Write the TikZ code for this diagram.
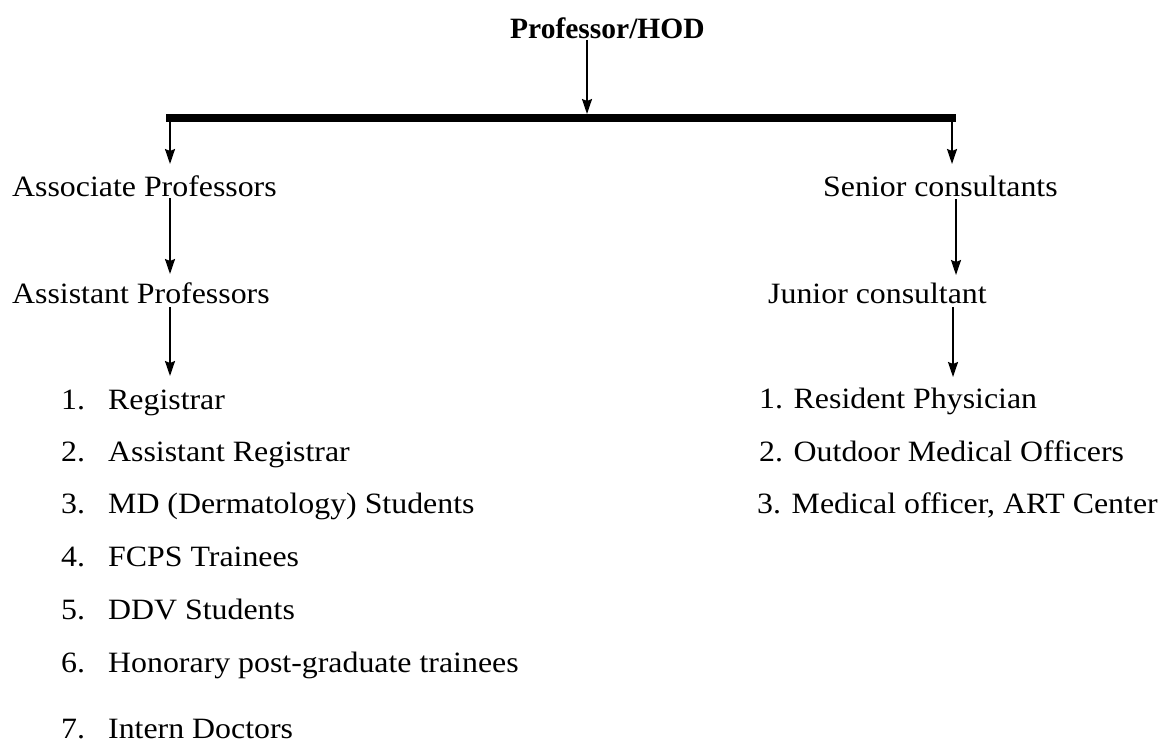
\documentclass[tikz,border=0pt]{standalone}
\usepackage{fontspec}
\setmainfont{Liberation Serif}[FakeStretch=1.08]
\newfontfamily\hodfont{Liberation Serif}
\usetikzlibrary{arrows.meta}
\begin{document}
\begin{tikzpicture}[x=1pt,y=-1pt,
  lbl/.style={anchor=base west,inner sep=0pt,font=\fontsize{29.5}{34}\selectfont},
  arr/.style={line width=1.8pt,-{Stealth[length=15pt,width=10pt,inset=2pt]}},
  bar/.style={line width=8pt}]
\useasboundingbox (0,0) rectangle (1158,749);
\node[lbl,font=\fontsize{29.5}{34}\hodfont\bfseries] (hod) at (510,39) {Professor/HOD};
% bar
\coordinate (bl) at (166,118);
\coordinate (br) at (956,118);
\coordinate (bm) at (587,114);
\coordinate (hodb) at (587,40);
\draw[bar] (bl) -- (br);
\draw[arr] (hodb) -- (bm);
% level nodes
\node[lbl] (assoc) at (12,196) {Associate Professors};
\node[lbl] (senior) at (823,196) {Senior consultants};
\node[lbl] (assist) at (12,303) {Assistant Professors};
\node[lbl] (junior) at (768,303) {Junior consultant};
% arrow endpoints
\coordinate (l0) at (170,122);
\coordinate (l1) at (170,164);
\coordinate (r0) at (952,122);
\coordinate (r1) at (952,164);
\coordinate (l2) at (170,198);
\coordinate (l3) at (170,274);
\coordinate (r2) at (956,199);
\coordinate (r3) at (956,275);
\coordinate (l4) at (170,307);
\coordinate (l5) at (170,376);
\coordinate (r4) at (953,307);
\coordinate (r5) at (953,377);
\draw[arr] (l0) -- (l1);
\draw[arr] (r0) -- (r1);
\draw[arr] (l2) -- (l3);
\draw[arr] (r2) -- (r3);
\draw[arr] (l4) -- (l5);
\draw[arr] (r4) -- (r5);
% left list
\node[lbl] (n1) at (61,409) {1.};
\node[lbl] (t1) at (108,409) {Registrar};
\node[lbl] (n2) at (61,461) {2.};
\node[lbl] (t2) at (108,461) {Assistant Registrar};
\node[lbl] (n3) at (61,513) {3.};
\node[lbl] (t3) at (108,513) {MD (Dermatology) Students};
\node[lbl] (n4) at (61,566) {4.};
\node[lbl] (t4) at (108,566) {FCPS Trainees};
\node[lbl] (n5) at (61,619) {5.};
\node[lbl] (t5) at (108,619) {DDV Students};
\node[lbl] (n6) at (61,672) {6.};
\node[lbl] (t6) at (108,672) {Honorary post-graduate trainees};
\node[lbl] (n7) at (61,738) {7.};
\node[lbl] (t7) at (108,738) {Intern Doctors};
% right list
\node[lbl] (s1) at (759,408) {1. Resident Physician};
\node[lbl] (s2) at (759,461) {2. Outdoor Medical Officers};
\node[lbl] (s3) at (757,513) {3. Medical officer, ART Center};
\end{tikzpicture}
\end{document}
